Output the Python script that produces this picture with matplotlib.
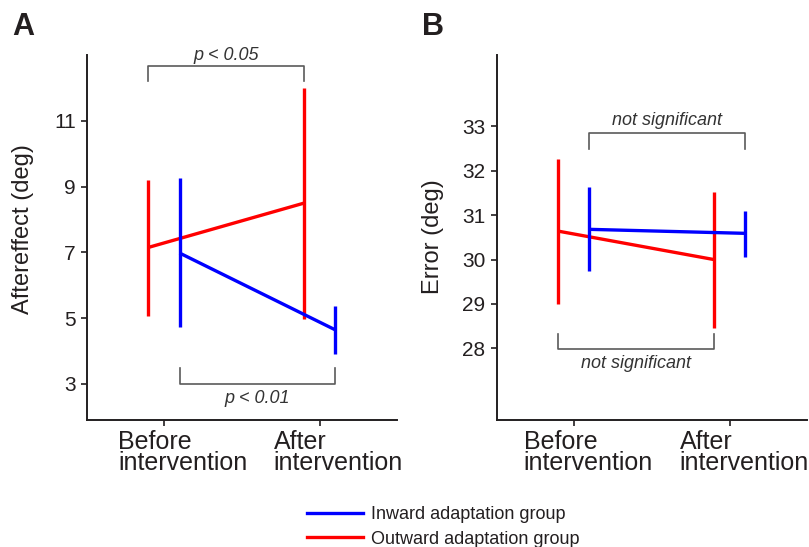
import matplotlib
matplotlib.use("Agg")
from matplotlib import pyplot as plt
from matplotlib import transforms
from matplotlib.lines import Line2D

plt.rcParams["font.family"] = ["Liberation Sans", "DejaVu Sans"]

TXT = "#231f20"
GREY = "#5a5a5a"

groups = ["Inward adaptation group", "Outward adaptation group"]
group_colors = ["#0000ff", "#ff0000"]
conditions = ["Before\nintervention", "After\nintervention"]

# panel A: aftereffect (deg), mean and error bar ends
after_mean_in = [6.98, 4.64]
after_lo_in = [4.72, 3.91]
after_hi_in = [9.25, 5.37]
after_mean_out = [7.15, 8.50]
after_lo_out = [5.07, 4.97]
after_hi_out = [9.21, 12.0]

# panel B: error (deg)
err_mean_in = [30.68, 30.59]
err_lo_in = [29.74, 30.06]
err_hi_in = [31.64, 31.09]
err_mean_out = [30.64, 30.00]
err_lo_out = [29.01, 28.47]
err_hi_out = [32.26, 31.52]

shift = {"in": 0.1, "out": -0.1}


def plot_group(ax, mean, lo, hi, dx, color):
    xs = [i + dx for i in range(len(mean))]
    ax.plot(xs, mean, color=color, lw=2.4, solid_capstyle="butt", zorder=3)
    ax.vlines(xs, lo, hi, color=color, lw=2.4, zorder=3)


def bracket(ax, x0, x1, y, tip, text, ty):
    ax.plot([x0, x0, x1, x1], [tip, y, y, tip], color=GREY, lw=1.2,
            clip_on=False, zorder=2)
    ax.text((x0 + x1) / 2, ty, text, ha="center", va="baseline",
            fontsize=13, style="italic", color="#333333", clip_on=False)


def style_axes(ax, ylim, yticks, ylabel, label_xy, xoff):
    ax.set_xlim(-0.494, 1.494)
    ax.set_ylim(*ylim)
    ax.set_yticks(yticks)
    ax.set_xticks([0, 1], conditions)
    for s in ["top", "right"]:
        ax.spines[s].set_visible(False)
    for s in ["left", "bottom"]:
        ax.spines[s].set_linewidth(1.4)
        ax.spines[s].set_color(TXT)
    ax.tick_params(axis="y", length=4, width=1.2, color=TXT, labelsize=15,
                   labelcolor=TXT, pad=4)
    ax.tick_params(axis="x", length=4, width=1.2, color=TXT, labelsize=18,
                   labelcolor=TXT, pad=3)
    # labels sit left-aligned, a bit left of their tick
    off = transforms.ScaledTranslation(xoff / 100, 0, ax.figure.dpi_scale_trans)
    for lab in ax.get_xticklabels():
        lab.set_ha("left")
        lab.set_multialignment("left")
        lab.set_linespacing(0.85)
        lab.set_transform(lab.get_transform() + off)
    ax.figure.text(label_xy[0], label_xy[1], ylabel, rotation=90, ha="center",
                   va="center", fontsize=17, color=TXT)


fig = plt.figure(figsize=(8.09, 5.47), dpi=100)
axA = fig.add_axes([0.1075, 0.2322, 0.383, 0.667])
axB = fig.add_axes([0.614, 0.2322, 0.383, 0.667])

# panel A
plot_group(axA, after_mean_out, after_lo_out, after_hi_out, shift["out"], group_colors[1])
plot_group(axA, after_mean_in, after_lo_in, after_hi_in, shift["in"], group_colors[0])
style_axes(axA, (1.9, 13.0), [3, 5, 7, 9, 11], "Aftereffect (deg)", (23 / 809, 0.582), -46)
bracket(axA, -0.1, 0.9, 12.68, 12.22, "p < 0.05", 12.86)
bracket(axA, 0.1, 1.1, 3.0, 3.49, "p < 0.01", 2.41)

# panel B
plot_group(axB, err_mean_out, err_lo_out, err_hi_out, shift["out"], group_colors[1])
plot_group(axB, err_mean_in, err_lo_in, err_hi_in, shift["in"], group_colors[0])
style_axes(axB, (26.39, 34.6), [28, 29, 30, 31, 32, 33], "Error (deg)", (433 / 809, 0.5676), -50)
bracket(axB, 0.1, 1.1, 32.84, 32.48, "not significant", 33.02)
bracket(axB, -0.1, 0.9, 27.98, 28.32, "not significant", 27.55)

# panel letters
fig.text(12 / 809, 1 - 35 / 547, "A", fontsize=22, fontweight="bold", color=TXT,
         ha="left", va="baseline")
fig.text(422 / 809, 1 - 35 / 547, "B", fontsize=22, fontweight="bold", color=TXT,
         ha="left", va="baseline")

handles = [Line2D([], [], color=c, lw=2.4) for c in group_colors]
fig.legend(handles, groups, loc="center left", bbox_to_anchor=(307 / 809, 1 - 527 / 547),
           frameon=False, fontsize=13, handlelength=3.1, handletextpad=0.45,
           labelspacing=0.4, borderpad=0, borderaxespad=0, labelcolor=TXT)

fig.savefig("out.png", dpi=100)
